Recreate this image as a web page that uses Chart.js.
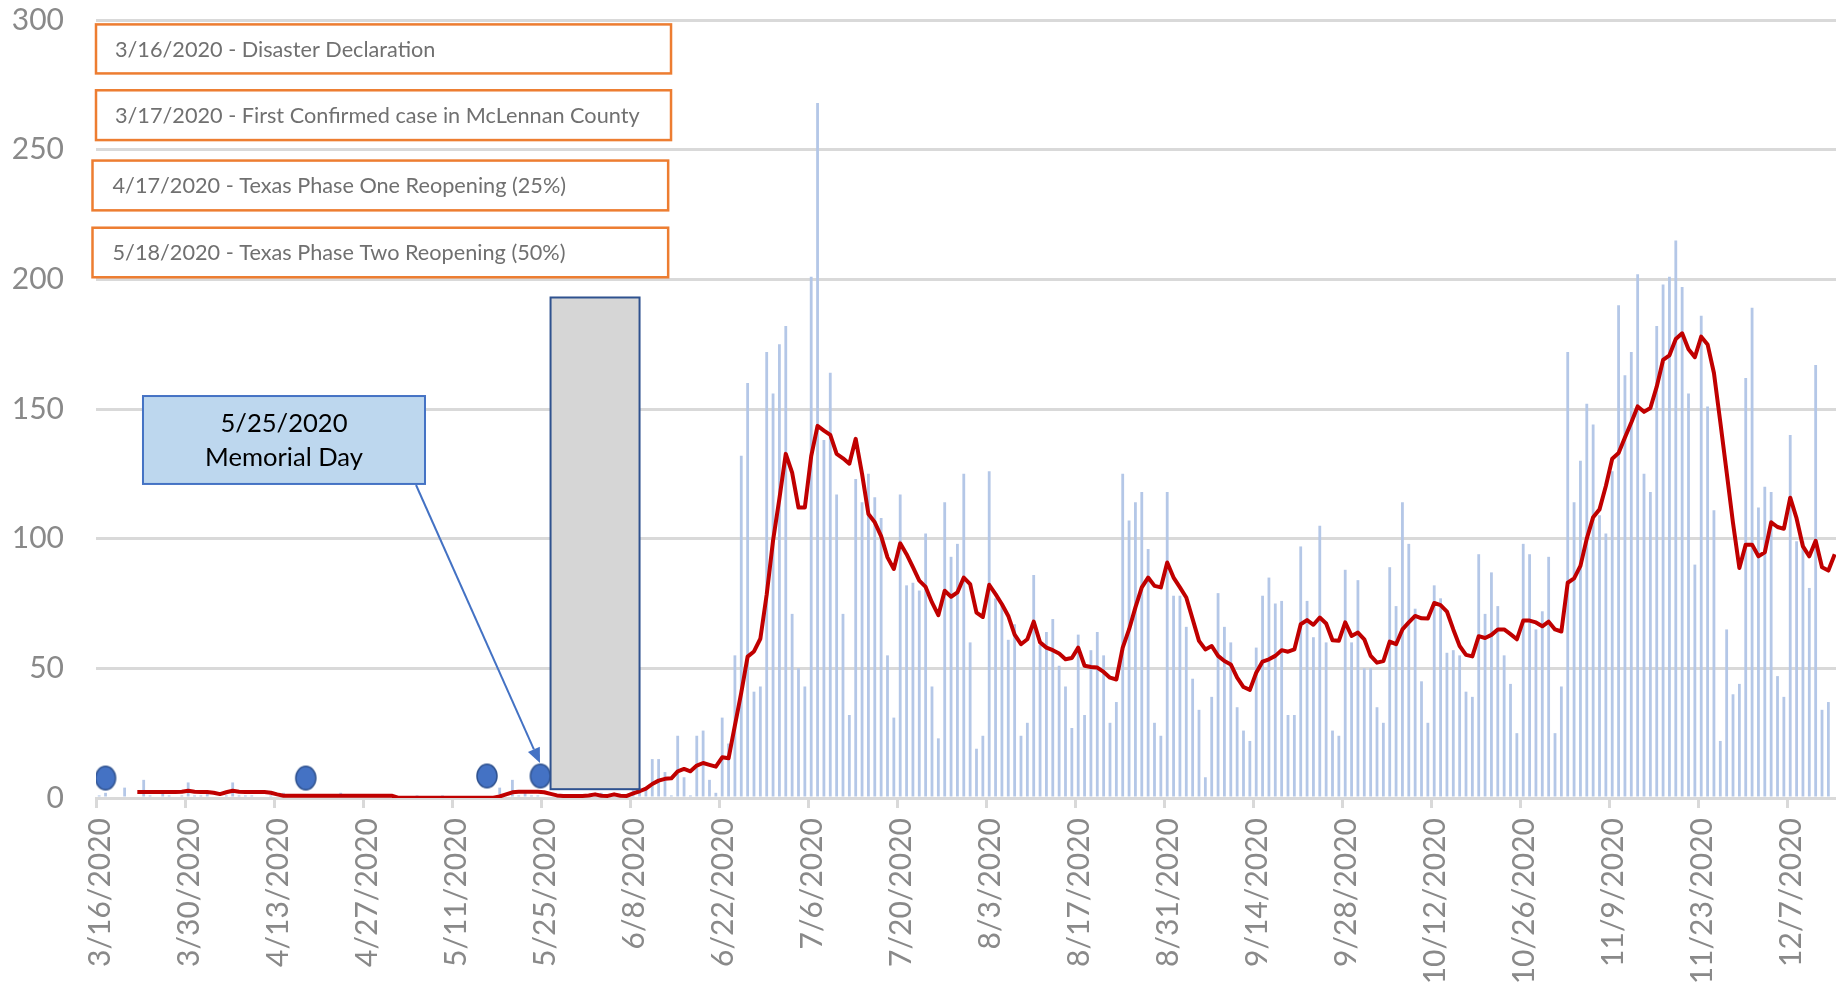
<!DOCTYPE html>
<html><head><meta charset="utf-8">
<script src="https://cdn.jsdelivr.net/npm/chart.js@4.4.0/dist/chart.umd.min.js"></script>
<style>html,body{margin:0;padding:0;background:#fff;overflow:hidden}canvas{display:block}</style>
</head><body>
<canvas id="c" width="1836" height="988"></canvas>
<script>
// ---------------- DATA ----------------
const startDate = '2020-03-16';          // day 0 of the series
const lastVisibleDay = 273.7;            // right edge of the plot (chart is cropped)
const tickDays = [0,14,28,42,56,70,84,98,112,126,140,154,168,182,196,210,224,238,252,266];
const yTicks = [0,50,100,150,200,250,300];

// daily new cases, one value per day from 3/16/2020
const dailyCases = [
 1,2,0,0,4,0,0,7,1,0, 3,1,0,1,6,1,1,2,0,0, 1,6,1,1,1,0,0,1,0,2,
 0,0,1,0,0,0,0,0,2,0, 0,1,0,0,0,0,0,0,0,0, 1,0,0,0,1,0,0,0,0,0,
 0,0,0,4,0,7,1,2,1,1, 0,0,0,0,1,0,0,1,1,2, 0,1,0,1,6,4,
 4,15,15,10,1,24,8,1,24,26, 7,2,31,21,55,132,160,41,43,172, 156,175,182,71,50,43,201,268,138,164, 117,
 71,32,123,114,125,116,108,55,31,117, 82,83,80,102,43,23,114,93,98,125, 60,19,24,126,77,75,61,67,24,29, 86,
 59,64,69,51,43,27,63,32,57,64, 55,29,37,125,107,114,118,96,29,24, 118,78,78,66,46,34,8,39,79,66,
 60,35,26,22,58,78,85,75,76,32, 32,97,76,62,105,60,26,24,88,60, 84,50,50,35,29,89,74,114,98,73, 45,
 29,82,77,56,57,55,41,39,94,71, 87,74,55,44,25,98,94,65,72,93, 25,43,172,114,130,152,144,109,102,126,
 190,163,172,202,125,118,182,198,201,215, 197,156,90,186,151,111,22,65,40,44, 162,189,112,120,118,47,39,140,99,99, 81,167,34,37
];

// 7-day moving average (red line), one value per day from 3/16/2020
const movingAverage = [
 null,null,null,null,null,null,
 2.3,2.3,2.3,2.3,2.3,2.3,2.3,2.4,2.8,2.4,2.3,2.3,2.0,1.5,2.2,2.8,2.4,2.3,2.3,2.3,2.3,2.0,1.4,0.9,
 0.9,0.9,0.9,0.9,0.9,0.9,0.9,0.9,0.9,0.9,0.9,0.9,0.9,0.9,0.9,0.9,0.9,
 0.1,0.1,0.1,0.1,0.1,0.1,0.1,0.1,0.1,0.1,0.1,0.1,0.1,0.1,0.1,0.1,
 0.6,1.4,2.2,2.4,2.4,2.4,2.4,2.2,1.6,1.0,0.8,0.8,0.8,0.8,1.0,1.4,0.9,0.8,1.4,0.9,0.8,1.8,2.6,
 3.6,5.4,6.7,7.4,7.6,10.3,11.2,10.3,12.5,13.5,12.8,12.1,15.7,15.3,28,40.6,54.5,56.5,61.4,78.5,99.3,115.5,132.7,125.5,112,112,131.8,143.5,141.7,140,132.7,
 131,128.9,138.5,125,109.5,106.3,101,92.8,88.3,98.2,94,89,83.8,81.4,75.4,70.5,79.9,77.6,79.3,85,82.5,71.5,69.8,82.2,78.6,74.7,70.2,63,59.3,61.2,68,
 60,58,57,55.7,53.5,54,58,51,50.5,50.3,48.6,46.4,45.7,58,65,73.5,81.2,85,81.8,81.2,90.8,85,81.2,77.3,69,60.6,57.3,58.6,54.8,52.8,
 51.5,46.4,42.8,41.7,48.3,52.6,53.5,54.8,57,56.4,57.3,67,68.6,66.8,69.6,67.3,60.8,60.6,67.7,62.5,63.8,61.2,54.8,52.2,52.8,60.3,59.3,65,67.7,70.2,69.3,
 69.2,75.2,74.4,71.9,65,58.6,55.2,54.6,62.4,61.7,62.9,65,65,63.2,61.2,68.4,68.4,67.7,66.2,68,65,64.2,83,84.7,89.5,100,108.3,111.3,120.3,130.8,
 133,139,144.8,151,148.9,150.4,158.6,168.9,170.7,177,179.2,173,170,177.9,174.9,163.9,145,125.6,106,88.7,97.7,97.7,93.2,94.7,106.3,104.5,103.8,115.8,107.8,97,93.2,99.2,89,87.7,94
];

// event markers (blue dots): position in days since 3/16/2020 and value
const eventDotDays = [1.5, 33.0, 61.5, 69.9];
const eventDotValues = [7.7, 7.7, 8.5, 8.5];

// annotation texts
const eventNotes = [
 '3/16/2020 - Disaster Declaration',
 '3/17/2020 - First Confirmed case in McLennan County',
 '4/17/2020 - Texas Phase One Reopening (25%)',
 '5/18/2020 - Texas Phase Two Reopening (50%)'
];
const calloutLines = ['5/25/2020', 'Memorial Day'];

// ---------------- LAYOUT (in axis units) ----------------
const noteBoxes = [
 {x0: 0,     x1: 90.45, yTop: 298.3, yBot: 279.4, textX: 2.99},
 {x0: 0,     x1: 90.45, yTop: 272.9, yBot: 253.7, textX: 2.99},
 {x0: -0.55, x1: 90.0,  yTop: 245.8, yBot: 226.6, textX: 2.6},
 {x0: -0.55, x1: 90.0,  yTop: 219.9, yBot: 200.8, textX: 2.6}
];
const callout = {x0: 7.39, x1: 51.75, yTop: 155.0, yBot: 121.1, line1: 144.5, line2: 131.4};
const arrow = {fromX: 50.34, fromY: 120.7, toX: 69.84, toY: 13.5};
const windowBox = {x0: 71.5, x1: 85.5, y0: 3.4, y1: 193};

const FONT = "Lato, 'Open Sans', sans-serif";
const startMs = Date.parse(startDate + 'T00:00:00Z');
function dayLabel(d) {
  const t = new Date(startMs + d * 86400000);
  return (t.getUTCMonth() + 1) + '/' + t.getUTCDate() + '/' + t.getUTCFullYear();
}

function makeDot() {
  const c = document.createElement('canvas'); c.width = 24; c.height = 27;
  const g = c.getContext('2d');
  g.beginPath(); g.ellipse(12, 13.5, 10, 11.8, 0, 0, 2 * Math.PI);
  g.fillStyle = '#4472C4'; g.fill();
  g.lineWidth = 1.5; g.strokeStyle = '#2F528F'; g.stroke();
  return c;
}

function fitSize(ctx, text, width, weight) {
  ctx.font = weight + ' 100px ' + FONT;
  return 100 * width / ctx.measureText(text).width;
}

const overlay = {
  id: 'overlay',
  afterDatasetsDraw(chart) {
    const {ctx, scales: {x, y}} = chart;
    const px = v => x.getPixelForValue(v), py = v => y.getPixelForValue(v);
    ctx.save();
    // grey window after Memorial Day
    ctx.fillStyle = '#D6D6D6'; ctx.strokeStyle = '#2F528F'; ctx.lineWidth = 2;
    ctx.fillRect(px(windowBox.x0), py(windowBox.y1), px(windowBox.x1) - px(windowBox.x0), py(windowBox.y0) - py(windowBox.y1));
    ctx.strokeRect(px(windowBox.x0), py(windowBox.y1), px(windowBox.x1) - px(windowBox.x0), py(windowBox.y0) - py(windowBox.y1));

    // arrow
    const x1 = px(arrow.fromX), y1 = py(arrow.fromY), x2 = px(arrow.toX), y2 = py(arrow.toY);
    const ang = Math.atan2(y2 - y1, x2 - x1), hl = 15, hw = 6.5;
    const bx = x2 - hl * Math.cos(ang), by = y2 - hl * Math.sin(ang);
    ctx.strokeStyle = '#4472C4'; ctx.fillStyle = '#4472C4'; ctx.lineWidth = 2;
    ctx.beginPath(); ctx.moveTo(x1, y1); ctx.lineTo(bx, by); ctx.stroke();
    ctx.beginPath(); ctx.moveTo(x2, y2);
    ctx.lineTo(bx + hw * Math.sin(ang), by - hw * Math.cos(ang));
    ctx.lineTo(bx - hw * Math.sin(ang), by + hw * Math.cos(ang));
    ctx.closePath(); ctx.fill();

    // Memorial Day callout
    const cx0 = px(callout.x0), cx1 = px(callout.x1), cy0 = py(callout.yTop), cy1 = py(callout.yBot);
    ctx.fillStyle = '#BDD7EE'; ctx.fillRect(cx0, cy0, cx1 - cx0, cy1 - cy0);
    ctx.strokeStyle = '#4472C4'; ctx.lineWidth = 2; ctx.strokeRect(cx0, cy0, cx1 - cx0, cy1 - cy0);
    const cs = fitSize(ctx, calloutLines[1], 158, 'normal');
    ctx.font = 'normal ' + cs + 'px ' + FONT; ctx.fillStyle = '#000';
    ctx.textAlign = 'center'; ctx.textBaseline = 'middle';
    ctx.fillText(calloutLines[0], (cx0 + cx1) / 2, py(callout.line1));
    ctx.fillText(calloutLines[1], (cx0 + cx1) / 2, py(callout.line2));

    // orange note boxes
    const ns = fitSize(ctx, eventNotes[1], 525, 'normal');
    noteBoxes.forEach((b, i) => {
      const bx0 = px(b.x0), bx1 = px(b.x1), by0 = py(b.yTop), by1 = py(b.yBot);
      ctx.fillStyle = '#fff'; ctx.fillRect(bx0, by0, bx1 - bx0, by1 - by0);
      ctx.strokeStyle = '#ED7D31'; ctx.lineWidth = 2.5; ctx.strokeRect(bx0, by0, bx1 - bx0, by1 - by0);
      ctx.font = 'normal ' + ns + 'px ' + FONT; ctx.fillStyle = '#707070';
      ctx.textAlign = 'left'; ctx.textBaseline = 'middle';
      ctx.fillText(eventNotes[i], px(b.textX), (by0 + by1) / 2 + 1);
    });
    ctx.restore();
  }
};

const barPoints = dailyCases.map((v, i) => ({x: i + 0.5, y: v}));
const linePoints = movingAverage.map((v, i) => ({x: i + 0.5, y: v}));
const dotPoints = eventDotDays.map((d, i) => ({x: d, y: eventDotValues[i]}));

new Chart(document.getElementById('c'), {
  type: 'bar',
  data: {
    datasets: [
      {type: 'line', data: dotPoints, showLine: false, pointStyle: makeDot(), pointRadius: 11, order: 1},
      {type: 'line', data: linePoints, borderColor: '#C00000', borderWidth: 4, pointRadius: 0, tension: 0,
       borderJoinStyle: 'round', spanGaps: false, order: 2},
      {type: 'bar', data: barPoints, backgroundColor: '#B4C7E7', barPercentage: 0.44, categoryPercentage: 1, order: 3}
    ]
  },
  options: {
    responsive: false, animation: false, devicePixelRatio: 1,
    layout: {autoPadding: false, padding: {top: 0, left: 0, right: 0, bottom: 0}},
    plugins: {legend: {display: false}, tooltip: {enabled: false}},
    scales: {
      x: {
        type: 'linear', min: 0, max: lastVisibleDay, offset: false,
        afterBuildTicks: s => { s.ticks = tickDays.map(v => ({value: v})); },
        afterFit: s => { s.height = 190; s.paddingLeft = 0; s.paddingRight = 0; },
        grid: {drawOnChartArea: false, drawTicks: true, tickLength: 10, color: '#D9D9D9', lineWidth: 3, offset: false},
        border: {display: true, color: '#D9D9D9', width: 3},
        ticks: {autoSkip: false, minRotation: 90, maxRotation: 90, padding: 10, labelOffset: 4, color: '#898989',
                font: {family: FONT, size: 30}, callback: v => dayLabel(v)}
      },
      y: {
        min: 0, max: 300,
        afterBuildTicks: s => { s.ticks = yTicks.map(v => ({value: v})); },
        afterFit: s => { s.width = 96; },
        grid: {color: '#D9D9D9', lineWidth: 3, drawTicks: true, tickLength: 30, tickColor: 'rgba(0,0,0,0)'},
        border: {display: false},
        ticks: {padding: 2, color: '#898989', font: {family: FONT, size: 30}}
      }
    }
  },
  plugins: [overlay]
});
</script>
</body></html>
